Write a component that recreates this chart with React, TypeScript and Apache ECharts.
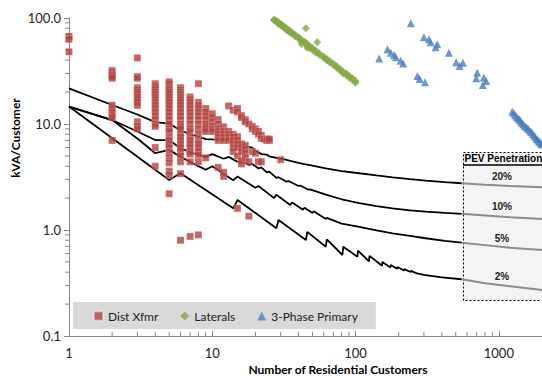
import React, { useEffect, useRef } from "react";
import * as echarts from "echarts";

// ---- Data ----
const distXfmr: [number, number][] = [
  [1, 67], [1, 63], [1, 48],
  [2, 32], [2, 31], [2, 30], [2, 29], [2, 28], [2, 27], [2, 15], [2, 14], [2, 13], [2, 12], [2, 11.5], [2, 7],
  [3, 42], [3, 28], [3, 27], [3, 22], [3, 21], [3, 20], [3, 19], [3, 18], [3, 17], [3, 16], [3, 15], [3, 10.5], [3, 9.5], [3, 9],
  [4, 24], [4, 23], [4, 22], [4, 21], [4, 20], [4, 19], [4, 18], [4, 17], [4, 16], [4, 15], [4, 14], [4, 13], [4, 12], [4, 11], [4, 10], [4, 9.5], [4, 6], [4, 4],
  [5, 25], [5, 24], [5, 22], [5, 21], [5, 20], [5, 19], [5, 18], [5, 17], [5, 16], [5, 15], [5, 14], [5, 13], [5, 12], [5, 11], [5, 10], [5, 9], [5, 8.5], [5, 7.5], [5, 7], [5, 6.5], [5, 6], [5, 5.4], [5, 4.8], [5, 4.3], [5, 3.6], [5, 3.3], [5, 2.2],
  [6, 22], [6, 21], [6, 20], [6, 19], [6, 18], [6, 17], [6, 16], [6, 15], [6, 14], [6, 13], [6, 12], [6, 11], [6, 10], [6, 9.5], [6, 9], [6, 8], [6, 7.5], [6, 7], [6, 6.5], [6, 6], [6, 5.5], [6, 5], [6, 4.4], [6, 3.4], [6, 0.8],
  [7, 18], [7, 17], [7, 16], [7, 15], [7, 14], [7, 13], [7, 12], [7, 11], [7, 10], [7, 9], [7, 8.5], [7, 7.5], [7, 7], [7, 6.5], [7, 6], [7, 5.5], [7, 5.2], [7, 4.4], [7, 0.87],
  [8, 24], [8, 16], [8, 15], [8, 14], [8, 13], [8, 12], [8, 11], [8, 10], [8, 9], [8, 8], [8, 7], [8, 6.5], [8, 6], [8, 5.5], [8, 5.1], [8, 4.4], [8, 0.9],
  [9, 14], [9, 13], [9, 12], [9, 11], [9, 10], [9, 9.5], [9, 9], [9, 8.5], [9, 4.8],
  [10, 12.5], [10, 11.5], [10, 10.5], [10, 9.5], [10, 9], [10, 8.5],
  [11, 11], [11, 10], [11, 9], [11, 8.5], [11, 8], [11, 7.5], [11, 7], [11, 3.9],
  [12, 9.4], [12, 8.5], [12, 8], [12, 7.5], [12, 7], [12, 3.5], [12, 3.2],
  [13, 14.8], [13, 8.5], [13, 8], [13, 7.5], [13, 7],
  [14, 13.5], [14, 8], [14, 7.5], [14, 7], [14, 6.5], [14, 6], [14, 5.5],
  [15, 14], [15, 13], [15, 7.6], [15, 7], [15, 6.5], [15, 6], [15, 5], [15, 1.6],
  [16, 12], [16, 11.5], [16, 6.5], [16, 6], [16, 5.5], [16, 4.5], [16, 4.2],
  [17, 11], [17, 10.5], [17, 6.3], [17, 5.8], [17, 5.3], [17, 4.8],
  [18, 10], [18, 4.4], [18, 1.35],
  [19, 9.5], [19, 9], [19, 5.5],
  [20, 9], [20, 8.5], [20, 5.3],
  [21, 8.5], [21, 8], [21, 4.4],
  [22, 7.8], [22, 7.3], [22, 4.4],
  [23, 7.2], [24, 7.2], [24, 7.0], [25, 7.0], [25, 7.2],
  [30, 4.6],
];

const laterals: [number, number][] = [
  [27, 97], [27, 95], [28, 94], [28, 92], [29, 91], [29, 88], [30, 88], [30, 86], [31, 85], [31, 83],
  [32, 82], [32, 80], [33, 80], [33, 77], [34, 77], [34, 75], [35, 75], [35, 73], [36, 73], [36, 71],
  [38, 69], [38, 67], [40, 66], [40, 64], [42, 62], [42, 60], [42, 57], [44, 60], [44, 58],
  [46, 57], [46, 55], [46, 52], [48, 54], [48, 52], [50, 52], [50, 50], [53, 49], [53, 47],
  [56, 46], [56, 45], [60, 43], [60, 42], [63, 41], [63, 40], [66, 39], [66, 38], [70, 37], [70, 36],
  [74, 35], [74, 34], [78, 33], [78, 32], [82, 31], [82, 30], [86, 30], [86, 29], [90, 28.5], [90, 27.5],
  [95, 27], [95, 26], [100, 25.5], [100, 24.5],
  [45, 80], [54, 59],
];

const primary3Phase: [number, number][] = [
  [243, 89], [146, 41.6], [167, 50.7], [176, 47.1], [186, 44.8], [191, 42.6], [206, 39.6], [215, 37.3],
  [270, 28.4], [280, 26.6], [305, 24.7], [300, 65.7], [325, 62.9], [334, 59], [372, 56.5], [362, 52.9],
  [448, 47.1], [503, 38.2], [561, 37.9], [532, 35.2], [706, 30.5], [695, 27], [785, 27.4], [815, 25.5], [773, 23.3],
  [1240, 13.1], [1270, 12.6], [1300, 12.1], [1330, 11.7], [1360, 11.3], [1390, 11], [1420, 10.6], [1450, 10.2],
  [1480, 9.9], [1520, 9.6], [1560, 9.3], [1600, 9], [1640, 8.7], [1680, 8.4], [1720, 8.1], [1760, 7.8],
  [1800, 7.5], [1840, 7.2], [1880, 7], [1920, 6.8], [1960, 6.6], [2000, 6.4],
];

const pev20: [number, number][] = [
  [1, 21.7], [2, 15.1], [3, 12.3], [4, 10.4], [5, 10.1], [6, 8.7], [7, 8.0], [8, 7.6], [9, 7.2], [10, 7.15], [12, 7.1], [14, 7.05],
  [15, 6.6], [16, 6.5], [18, 6.1], [19, 6.0], [20, 5.6], [21, 5.4], [22, 5.2], [24, 5.15], [25, 4.95], [27, 4.85], [29, 4.75],
  [31, 4.7], [35, 4.5], [40, 4.3], [43, 4.2], [50, 4.05], [62, 3.82], [80, 3.6], [106, 3.43], [140, 3.27], [181, 3.14],
  [240, 3.02], [308, 2.92], [420, 2.83], [550, 2.76], [800, 2.67], [1200, 2.6], [2000, 2.53],
];
const pev10: [number, number][] = [
  [1, 14.6], [2, 10.9], [3, 8.5], [4, 7.06], [5, 7.06], [6, 5.9], [8, 5.1], [9, 4.9], [10, 5.2], [12, 4.7], [13, 4.9],
  [15, 4.4], [16, 4.55], [18, 4.1], [19, 4.2], [21, 3.8], [22, 3.9], [24, 3.5], [25, 3.55], [28, 3.1], [29, 3.15],
  [33, 2.85], [34, 2.9], [40, 2.6], [41, 2.63], [47, 2.4], [48, 2.42], [55, 2.28], [62, 2.16], [80, 1.95], [106, 1.79],
  [140, 1.68], [181, 1.6], [240, 1.53], [308, 1.49], [420, 1.45], [550, 1.42], [800, 1.37], [1200, 1.32], [2000, 1.27],
];
const pev5: [number, number][] = [
  [1, 14.6], [2, 10.9], [3, 7.3], [4, 5.3], [5, 5.7], [6, 4.9], [8, 4.0], [9, 3.7], [10, 4.0], [14, 2.95], [15, 3.2],
  [20, 2.5], [21, 2.6], [27, 2.0], [28, 2.15], [35, 1.72], [36, 1.82], [43, 1.55], [44, 1.62], [50, 1.45], [51, 1.5],
  [62, 1.27], [63, 1.3], [80, 1.15], [106, 1.07], [140, 0.99], [181, 0.93], [240, 0.88], [308, 0.836], [420, 0.79],
  [550, 0.76], [800, 0.72], [1200, 0.68], [2000, 0.648],
];
const pev2: [number, number][] = [
  [1, 14.6], [5, 2.96], [6, 3.43], [14, 1.6], [15, 1.92], [28, 1.04], [29, 1.24], [45, 0.805], [46, 0.96], [62, 0.696],
  [63, 0.817], [81, 0.581], [82, 0.696], [103, 0.56], [104, 0.64], [124, 0.505], [125, 0.57], [153, 0.46], [154, 0.5],
  [175, 0.443], [176, 0.468], [195, 0.43], [196, 0.447], [218, 0.415], [219, 0.428], [242, 0.402], [243, 0.412], [268, 0.39],
  [300, 0.378], [400, 0.358], [550, 0.343], [800, 0.315], [1200, 0.295], [2000, 0.272],
];

const pevLabels = ["20%", "10%", "5%", "2%"];
const xTickLabels = [1, 10, 100, 1000];
const decades = [1, 10, 100, 1000];
const minorMultipliers = [2, 3, 4, 5, 6, 7, 8, 9];
const yDecades = [0.1, 1, 10];
const boxStartN = 550;

const FONT = "Lato, 'Liberation Sans', sans-serif";
const AXIS_COLOR = "#868686";

export default function App() {
  const ref = useRef<HTMLDivElement>(null);
  useEffect(() => {
    if (!ref.current) return;
    const chart = echarts.init(ref.current, undefined, { renderer: "svg" });

    const xMinor: number[] = [];
    decades.forEach((d) => minorMultipliers.forEach((m) => { if (d * m < 2000) xMinor.push(d * m); }));
    const yMinor: number[] = [];
    yDecades.forEach((d) => minorMultipliers.forEach((m) => yMinor.push(d * m)));

    const lines = [pev20, pev10, pev5, pev2];
    const lineSeries: any[] = [];
    lines.forEach((ln, i) => {
      lineSeries.push({
        type: "line", name: "pevb" + i, data: ln.filter((p) => p[0] <= boxStartN),
        showSymbol: false, symbol: "none", lineStyle: { color: "#000", width: 1.8 }, z: 3, silent: true,
      });
      lineSeries.push({
        type: "line", name: "pevg" + i, data: ln.filter((p) => p[0] >= boxStartN),
        showSymbol: false, symbol: "none", lineStyle: { color: "#8c8c8c", width: 2 }, z: 3, silent: true,
      });
    });

    const labelYs = [176, 206.5, 238, 276.5];

    chart.setOption({
      animation: false,
      textStyle: { fontFamily: FONT },
      grid: { left: 69, top: 18, right: -1, bottom: 40 },
      legend: {
        data: ["Dist Xfmr", "Laterals", "3-Phase Primary"],
        left: 73, top: 302,
        backgroundColor: "#d9d9d9",
        padding: [8, 18, 7, 20],
        itemGap: 22, itemWidth: 9, itemHeight: 9,
        textStyle: { fontFamily: FONT, fontSize: 12, color: "#222" },
      },
      xAxis: {
        type: "log", logBase: 10, min: 1, max: 2000,
        axisLine: { lineStyle: { color: AXIS_COLOR } },
        axisTick: { inside: true, length: 5, lineStyle: { color: AXIS_COLOR } },
        splitLine: { show: false },
        axisLabel: {
          margin: 10, fontSize: 13, color: "#222", fontFamily: FONT, showMaxLabel: false,
          formatter: (v: number) => { const r = Math.round(v); return xTickLabels.includes(r) ? String(r) : ""; },
        },
      },
      yAxis: {
        type: "log", logBase: 10, min: 0.1, max: 100,
        axisLine: { show: true, lineStyle: { color: AXIS_COLOR } },
        axisTick: { show: true, inside: false, length: 5, lineStyle: { color: AXIS_COLOR } },
        splitLine: { show: false },
        axisLabel: { margin: 8, fontSize: 13, color: "#222", fontFamily: FONT, formatter: (v: number) => v.toFixed(1) },
      },
      graphic: [
        { type: "rect", z: -1, shape: { x: 463.5, y: 152.5, width: 100, height: 148 },
          style: { fill: "#f4f4f4", stroke: "#000", lineWidth: 1, lineDash: [2, 2] } },
        { type: "text", z: 10, x: 464.5, y: 158, style: { text: "PEV Penetration", font: "bold 10px Arial, 'Liberation Sans'", fill: "#000", textVerticalAlign: "middle" } },
        { type: "line", z: 10, shape: { x1: 463, y1: 165, x2: 545, y2: 165 }, style: { stroke: "#000", lineWidth: 1.5 } },
        ...pevLabels.map((t, i) => ({
          type: "text", z: 10, x: 502, y: labelYs[i],
          style: { text: t, font: "bold 10px Arial, 'Liberation Sans'", fill: "#222", textAlign: "center", textVerticalAlign: "middle" },
        })),
        { type: "text", x: 15, y: 138, rotation: Math.PI / 2,
          style: { text: "kVA/Customer", font: `bold 12px ${FONT}`, fill: "#000", textAlign: "center", textVerticalAlign: "middle" } },
        { type: "text", x: 338, y: 369,
          style: { text: "Number of Residential Customers", font: `bold 12px ${FONT}`, fill: "#000", textAlign: "center", textVerticalAlign: "middle" } },
      ],
      series: [
        {
          type: "custom", name: "xminor", silent: true, clip: false,
          data: xMinor.map((v) => [v, 0.1]),
          renderItem: (_p: any, api: any) => {
            const c = api.coord([api.value(0), 0.1]);
            return { type: "line", shape: { x1: c[0], y1: c[1], x2: c[0], y2: c[1] - 4 }, style: { stroke: AXIS_COLOR, lineWidth: 1 } };
          },
        },
        {
          type: "custom", name: "yminor", silent: true, clip: false,
          data: yMinor.map((v) => [1, v]),
          renderItem: (_p: any, api: any) => {
            const c = api.coord([1, api.value(1)]);
            return { type: "line", shape: { x1: c[0], y1: c[1], x2: c[0] - 4, y2: c[1] }, style: { stroke: AXIS_COLOR, lineWidth: 1 } };
          },
        },
        ...lineSeries,
        { type: "scatter", name: "Dist Xfmr", data: distXfmr, symbol: "rect", symbolSize: 7,
          itemStyle: { color: "#b5403d", borderColor: "rgba(255,255,255,0.5)", borderWidth: 0.5 }, z: 4 },
        { type: "scatter", name: "Laterals", data: laterals, symbol: "diamond", symbolSize: 8,
          itemStyle: { color: "#86a947" }, z: 4 },
        { type: "scatter", name: "3-Phase Primary", data: primary3Phase, symbol: "triangle", symbolSize: 8,
          itemStyle: { color: "#4a7ebf" }, z: 4 },
      ],
    });
    return () => chart.dispose();
  }, []);
  return <div ref={ref} style={{ width: 542, height: 376, position: "absolute", left: 0, top: 0 }} />;
}
